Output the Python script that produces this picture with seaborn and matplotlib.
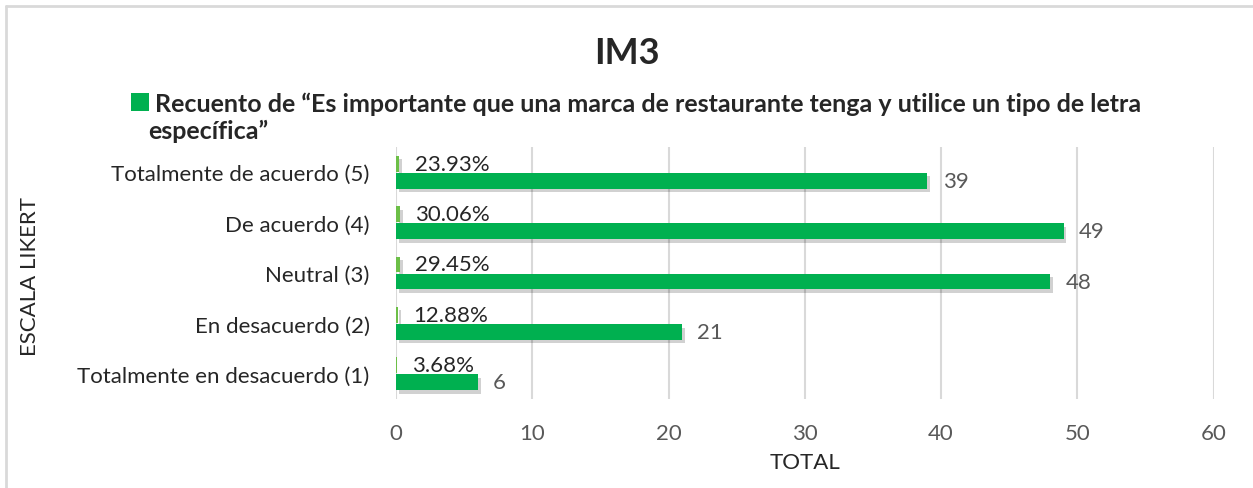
import matplotlib
matplotlib.use("Agg")
from matplotlib import pyplot as plt
from matplotlib.patches import Patch
from matplotlib.lines import Line2D
import matplotlib.patheffects as pe
import pandas as pd
import seaborn as sns

# data (top to bottom as shown)
categorias = ["Totalmente de acuerdo (5)", "De acuerdo (4)", "Neutral (3)",
              "En desacuerdo (2)", "Totalmente en desacuerdo (1)"]
conteo = [39, 49, 48, 21, 6]
porcentaje = [0.2393, 0.3006, 0.2945, 0.1288, 0.0368]
series = ["Porcentaje", "Recuento"]
leyenda_1 = "Recuento de \u201cEs importante que una marca de restaurante tenga y utilice un tipo de letra"
leyenda_2 = "espec\u00edfica\u201d"

df = pd.DataFrame({
    "categoria": categorias * 2,
    "valor": porcentaje + conteo,
    "serie": [series[0]] * len(categorias) + [series[1]] * len(categorias),
})

sns.set_style("white")
plt.rcParams["font.family"] = ["Lato", "DejaVu Sans"]

fig = plt.figure(figsize=(12.53, 4.89), dpi=100)
ax = fig.add_axes([396 / 1253, 1 - 400 / 489, 817.5 / 1253, 252 / 489])

sns.barplot(data=df, y="categoria", x="valor", hue="serie", hue_order=series,
            order=categorias, orient="h", palette=["#6cbf47", "#00b050"],
            saturation=1, linewidth=0, width=0.68, gap=0.08, ax=ax, legend=False)

shadow = [pe.SimplePatchShadow(offset=(2, -2.5), shadow_rgbFace="#000000", alpha=0.18), pe.Normal()]
for p in ax.patches:
    p.set_path_effects(shadow)

ax.bar_label(ax.containers[0], labels=[f"{v:.2%}" for v in porcentaje],
             padding=11, fontsize=16, color="#262626")
ax.bar_label(ax.containers[1], labels=[str(v) for v in conteo],
             padding=11, fontsize=16, color="#595959")

ax.set_xlim(0, 60)
ax.set_xticks(range(0, 61, 10))
ax.grid(axis="x", color="#d9d9d9", linewidth=1.5)
ax.set_axisbelow(True)
for s in ax.spines.values():
    s.set_visible(False)
ax.tick_params(axis="x", length=0, pad=17, labelsize=16, labelcolor="#595959")
ax.tick_params(axis="y", length=0, pad=19, labelsize=16, labelcolor="#262626")

ax.set_xlabel("TOTAL", fontsize=16, color="#262626", labelpad=7)
ax.set_ylabel("")
fig.text(30 / 1253, 1 - 277 / 489, "ESCALA LIKERT", rotation=90, fontsize=16,
         color="#262626", ha="center", va="center")

fig.text(0.5, 1 - 54 / 489, "IM3", fontsize=26, fontweight="bold",
         color="#262626", ha="center", va="center")

handle = Patch(facecolor="#00b050", edgecolor="none")
fig.legend(handles=[handle], labels=[leyenda_1], loc="center left",
           bbox_to_anchor=(121 / 1253, 1 - 104 / 489), frameon=False,
           prop={"weight": "bold", "size": 18}, handlelength=0.7,
           handleheight=0.7, handletextpad=0.25, labelcolor="#262626",
           borderaxespad=0)
fig.text(148 / 1253, 1 - 131 / 489, leyenda_2, fontsize=18, fontweight="bold",
         color="#262626", ha="left", va="center")

# chart area border
fig.add_artist(Line2D([6 / 1253, 1], [1 - 7 / 489] * 2, color="#d9d9d9", linewidth=2))
fig.add_artist(Line2D([6 / 1253] * 2, [0, 1 - 7 / 489], color="#d9d9d9", linewidth=2))

fig.savefig("out.png", dpi=100, facecolor="white")
